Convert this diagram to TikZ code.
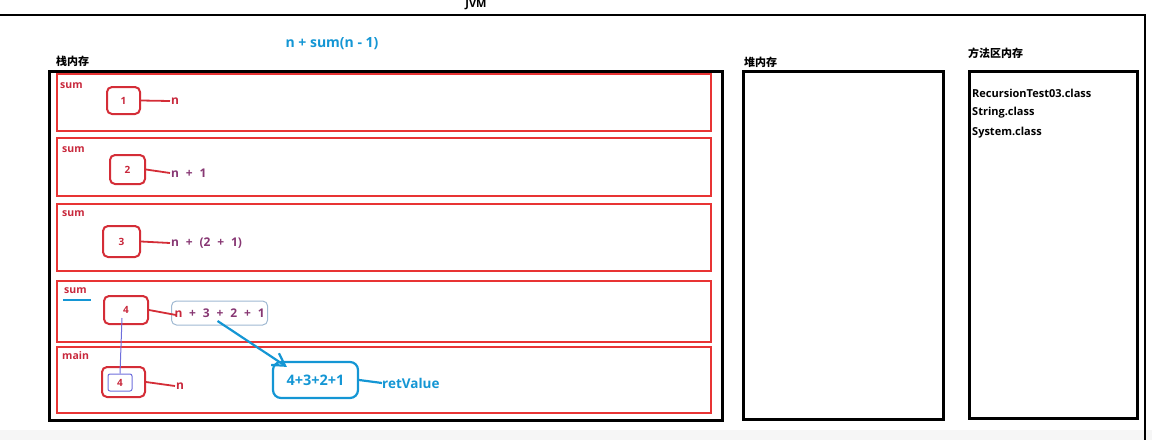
\documentclass[tikz,border=0pt]{standalone}
\usepackage{fontspec}
\setmainfont{Open Sans}
\newfontfamily\cjk{Noto Sans CJK SC}
\newfontfamily\exprfont{Open Sans}[WordSpace=2.2]
\usepackage{xcolor}
\usepackage{tikz}
\usetikzlibrary{arrows.meta}
\usetikzlibrary{positioning}
\usetikzlibrary{calc}

\definecolor{marcorojo}{RGB}{232,52,52}
\definecolor{cajaroja}{RGB}{212,45,55}
\definecolor{textorojo}{RGB}{200,40,60}
\definecolor{morado}{RGB}{135,55,115}
\definecolor{celeste}{RGB}{20,150,212}
\definecolor{enlaceazul}{RGB}{110,110,220}
\definecolor{bordegris}{RGB}{160,185,210}

\begin{document}
\begin{tikzpicture}[
    x=1pt, y=-1pt,
    area/.style={draw=black, line width=2.5pt, anchor=north west, inner sep=0pt},
    marco/.style={draw=marcorojo, line width=2pt, anchor=north west, inner sep=0pt, minimum width=654pt},
    nombre/.style={text=textorojo, font=\bfseries\fontsize{10.5}{12}\selectfont, anchor=west, inner sep=0pt},
    titulo/.style={font=\cjk\bfseries\fontsize{11}{13}\selectfont, anchor=west, inner sep=0pt},
    clase/.style={font=\bfseries\fontsize{11}{13}\selectfont, anchor=west, inner sep=0pt},
    valor/.style={draw=cajaroja, line width=2pt, rounded corners=5pt, text=textorojo, font=\bfseries\fontsize{10}{12}\selectfont},
    expr/.style={text=morado, font=\exprfont\bfseries\fontsize{12}{14}\selectfont, anchor=west, inner sep=1pt},
    enlace/.style={draw=cajaroja, line width=1.8pt},
    azul/.style={draw=celeste, line width=2.2pt},
    scale=1
]

\useasboundingbox (0,0) rectangle (1152,440);
\fill[gray!7] (0,430) rectangle (1152,440);

% JVM
\node[font=\bfseries\fontsize{11}{12}\selectfont] (jvm) at (476,5) {JVM};
\draw[line width=2.5pt] (0,15) -- (1145,15) -- (1145,440);
\node[text=celeste, font=\bfseries\fontsize{14}{16}\selectfont] (formula) at (332,44) {n + sum(n - 1)};

% Zonas de memoria
\node[area, minimum width=673pt, minimum height=349pt] (pila) at (48,70) {};
\node[area, minimum width=200pt, minimum height=348pt] (heap) at (742,70) {};
\node[area, minimum width=168pt, minimum height=347pt] (metodo) at (968,70) {};
\node[titulo] (tpila) at (56,61) {栈内存};
\node[titulo] (theap) at (744,62) {堆内存};
\node[titulo] (tmetodo) at (968,53) {方法区内存};

% Clases cargadas
\node[clase] (c1) at (972,93) {RecursionTest03.class};
\node[clase] (c2) at (972,113) {String.class};
\node[clase] (c3) at (972,133) {System.class};

% Marcos de la pila
\node[marco, minimum height=57pt] (f1) at (56,73) {};
\node[marco, minimum height=58pt] (f2) at (56,137) {};
\node[marco, minimum height=67pt] (f3) at (56,203) {};
\node[marco, minimum height=61pt] (f4) at (56,280) {};
\node[marco, minimum height=66pt] (f5) at (56,346) {};

\node[nombre] (s1) at (60,86) {sum};
\node[nombre] (s2) at (62,150) {sum};
\node[nombre] (s3) at (62,214) {sum};
\node[nombre] (s4) at (64,291) {sum};
\node[nombre] (s5) at (62,356) {main};
\draw[azul, line width=1.8pt] ($(s4.south west)+(-1,6)$) -- ($(s4.south east)+(4,6)$);

% Variables n
\node[valor, minimum width=33pt, minimum height=27pt] (v1) at (123.5,100.5) {1};
\node[valor, minimum width=35pt, minimum height=29pt] (v2) at (127.5,169.5) {2};
\node[valor, minimum width=37pt, minimum height=31pt] (v3) at (121.5,241.5) {3};
\node[valor, minimum width=44pt, minimum height=28pt] (v4) at (126,310) {4\hspace{10pt}};
\node[valor, minimum width=43pt, minimum height=30pt] (v5) at (123.5,382) {};
\node[draw=enlaceazul, line width=1pt, rounded corners=2pt, minimum width=24pt, minimum height=17pt,
      inner sep=0pt, text=textorojo, font=\bfseries\fontsize{10}{12}\selectfont] (in5) at (120,382.5) {4};

% Expresiones
\node[expr, text=textorojo] (e1) at (170,101) {n};
\node[expr] (e2) at (170,173) {n + 1};
\node[expr] (e3) at (170,243) {n + (2 + 1)};
\node[expr, draw=bordegris, line width=1pt, rounded corners=5pt, minimum height=24pt,
      inner sep=3pt] (e4) at (171,313) {\textcolor{textorojo}{n} + 3 + 2 + 1};
\node[expr, text=textorojo] (e5) at (175,386) {n};

\draw[enlace] (v1.east) -- (e1.west);
\draw[enlace] (v2.east) -- (e2.west);
\draw[enlace] (v3.east) -- (e3.west);
\draw[enlace] (v4.east) -- ($(e4.west)+(5,2)$);
\draw[enlace] (v5.east) -- (e5.west);
\draw[enlaceazul, line width=1pt] ($(v4.center)+(-4,8)$) -- (in5.north);

% Valor de retorno
\node[azul, rounded corners=8pt, minimum width=85pt, minimum height=36pt, text=celeste,
      font=\bfseries\fontsize{14.5}{16}\selectfont] (ret) at (315.5,380) {4+3+2+1};
\node[text=celeste, font=\bfseries\fontsize{13.5}{16}\selectfont, anchor=west, inner sep=0pt] (rv) at (382,383) {retValue};
\draw[azul] (ret.east) -- (rv.west);
\draw[azul, -{Straight Barb[open, length=12pt, width=14pt]}] ($(e4.center)+(-2,8)$) -- ($(ret.north west)+(15,6)$);

\end{tikzpicture}
\end{document}
